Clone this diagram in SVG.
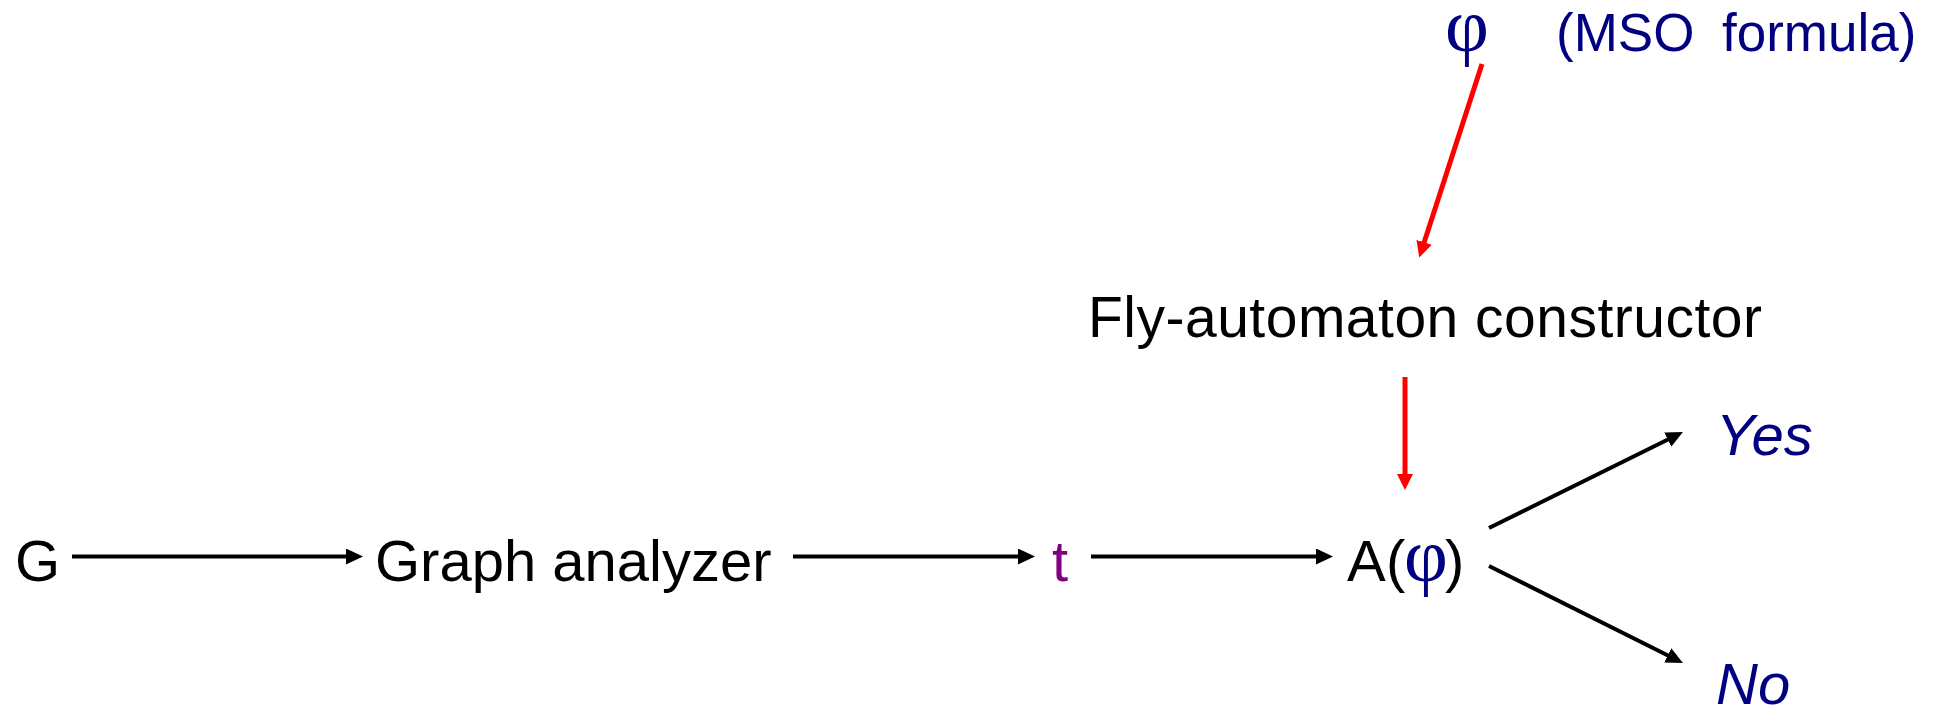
<svg xmlns="http://www.w3.org/2000/svg" width="1937" height="708" viewBox="0 0 1937 708">
<style>
.t{font-family:"Liberation Sans",Arial,sans-serif;font-size:58px;fill:#000}
.nv{fill:#000080}
.phi{font-family:"Liberation Serif","Times New Roman",serif;font-size:76px;fill:#000080}
.it{font-style:italic}
.blk{stroke:#000;stroke-width:4;fill:none}
.red{stroke:#FF0000;stroke-width:5;fill:none}
</style>
<defs>
<marker id="ab" markerUnits="userSpaceOnUse" markerWidth="17" markerHeight="17" refX="7" refY="8" orient="auto"><path d="M0,0 L17,8 L0,16 z" fill="#000"/></marker>
<marker id="ar" markerUnits="userSpaceOnUse" markerWidth="17" markerHeight="17" refX="7" refY="8" orient="auto"><path d="M0,0 L16,8 L0,16 z" fill="#FF0000"/></marker>
</defs>
<g id="connectors">
<line class="blk" x1="72" y1="556.5" x2="353" y2="556.5" marker-end="url(#ab)"/>
<line class="blk" x1="793" y1="556.5" x2="1025" y2="556.5" marker-end="url(#ab)"/>
<line class="blk" x1="1091" y1="556.5" x2="1323" y2="556.5" marker-end="url(#ab)"/>
<line class="blk" x1="1489" y1="528" x2="1674" y2="436.5" marker-end="url(#ab)"/>
<line class="blk" x1="1489" y1="566" x2="1674" y2="658.5" marker-end="url(#ab)"/>
<line class="red" x1="1482" y1="64" x2="1422" y2="249" marker-end="url(#ar)"/>
<line class="red" x1="1405" y1="377" x2="1405" y2="481" marker-end="url(#ar)"/>
</g>
<g id="node-G"><text class="t" x="15" y="581">G</text></g>
<g id="node-analyzer"><text class="t" x="375" y="581">Graph analyzer</text></g>
<g id="node-t"><text class="t" x="1052" y="581" style="fill:#800080">t</text></g>
<g id="node-A"><text class="t" x="1347" y="581">A<tspan x="1386">(</tspan><tspan class="phi" x="1404">φ</tspan><tspan x="1445">)</tspan></text></g>
<g id="node-constructor"><text class="t" x="1088" y="337" style="font-size:57px" textLength="674" lengthAdjust="spacing">Fly-automaton constructor</text></g>
<g id="node-phi"><text class="phi" x="1445" y="51">φ</text><text class="t nv" style="font-size:53px" x="1556" y="51">(MSO</text><text class="t nv" style="font-size:53px" x="1722" y="51">formula)</text></g>
<g id="node-yes"><text class="t nv it" x="1716" y="455">Yes</text></g>
<g id="node-no"><text class="t nv it" x="1716" y="704">No</text></g>
</svg>
